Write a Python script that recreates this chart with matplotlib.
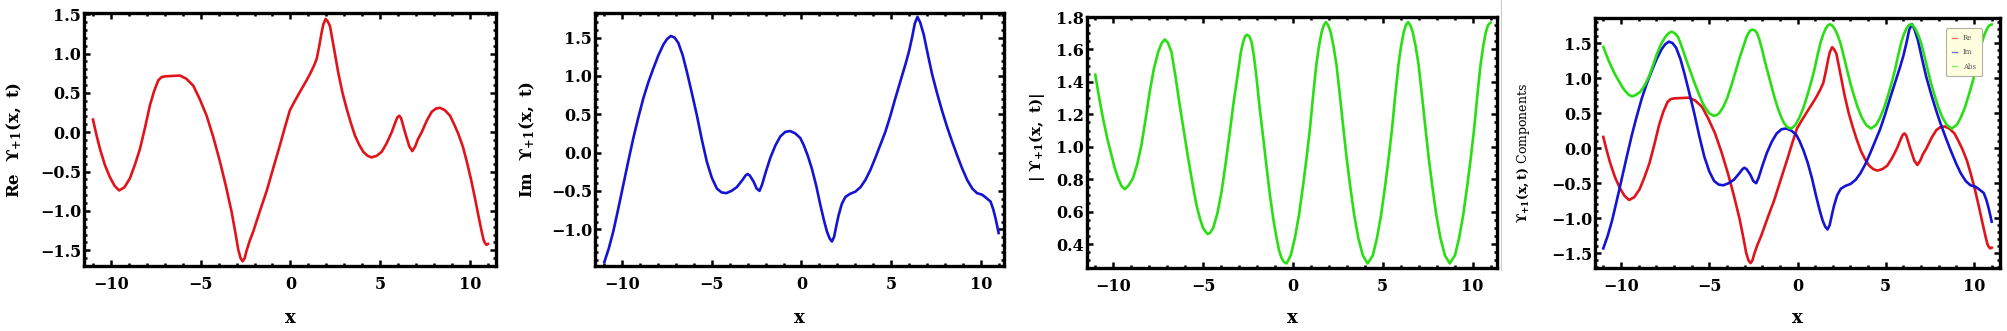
import matplotlib
matplotlib.use("Agg")
import matplotlib.pyplot as plt
from matplotlib.ticker import MultipleLocator
from matplotlib.lines import Line2D

# 図から読み取った値
re_x = [-11.0, -10.8, -10.6, -10.33, -10.06, -9.8, -9.54, -9.25, -8.94, -8.66, -8.38, -8.1,
        -7.83, -7.6, -7.36, -7.18, -6.99, -6.6, -6.16, -5.8, -5.41, -5.05, -4.67, -4.3, -3.93,
        -3.6, -3.28, -3.05, -2.91, -2.78, -2.66, -2.55, -2.45, -2.27, -2.07, -1.7, -1.33, -0.95,
        -0.58, -0.3, -0.03, 0.25, 0.62, 0.85, 1.09, 1.3, 1.46, 1.6, 1.74, 1.83, 1.96, 2.07, 2.2,
        2.43, 2.66, 2.9, 3.13, 3.36, 3.59, 3.83, 4.06, 4.3, 4.52, 4.8, 5.08, 5.36, 5.64, 5.85,
        5.96, 6.06, 6.16, 6.27, 6.38, 6.5, 6.62, 6.79, 6.95, 7.1, 7.31, 7.6, 7.87, 8.1, 8.33,
        8.6, 8.89, 9.12, 9.35, 9.6, 9.82, 10.05, 10.28, 10.47, 10.65, 10.76, 10.84, 10.92, 11.0]
re_y = [0.16, -0.04, -0.22, -0.42, -0.57, -0.68, -0.74, -0.70, -0.585, -0.41, -0.21, 0.06,
        0.34, 0.52, 0.66, 0.70, 0.71, 0.715, 0.72, 0.68, 0.59, 0.42, 0.21, -0.06, -0.37,
        -0.68, -1.01, -1.30, -1.49, -1.60, -1.64, -1.60, -1.51, -1.38, -1.26, -1.0, -0.75, -0.45,
        -0.16, 0.07, 0.28, 0.40, 0.55, 0.64, 0.74, 0.84, 0.93, 1.09, 1.27, 1.37, 1.44, 1.41, 1.35,
        1.06, 0.76, 0.50, 0.30, 0.12, -0.04, -0.16, -0.25, -0.30, -0.32, -0.30, -0.25, -0.14, 0.0, 0.13,
        0.19, 0.21, 0.18, 0.09, 0.0, -0.09, -0.18, -0.24, -0.18, -0.09, 0.0, 0.15, 0.26, 0.30, 0.31,
        0.28, 0.21, 0.10, -0.02, -0.18, -0.37, -0.59, -0.84, -1.06, -1.26, -1.37, -1.41, -1.43, -1.42]

im_x = [-11.0, -10.75, -10.5, -10.22, -9.94, -9.66, -9.38, -9.1, -8.82, -8.54, -8.26, -7.98,
        -7.70, -7.5, -7.29, -7.08, -6.87, -6.63, -6.40, -6.12, -5.84, -5.56, -5.28, -5.0, -4.72,
        -4.46, -4.20, -3.9, -3.60, -3.3, -3.12, -3.01, -2.88, -2.67, -2.5, -2.34, -2.2, -2.0,
        -1.74, -1.46, -1.18, -0.9, -0.63, -0.35, -0.07, 0.12, 0.35, 0.58, 0.82, 1.05, 1.25, 1.42,
        1.57, 1.70, 1.82, 1.95, 2.07, 2.25, 2.45, 2.7, 3.01, 3.3, 3.56, 3.84, 4.12, 4.4, 4.68,
        4.96, 5.24, 5.52, 5.80, 6.0, 6.17, 6.32, 6.47, 6.62, 6.82, 7.05, 7.29, 7.57, 7.85, 8.13,
        8.41, 8.69, 8.97, 9.25, 9.53, 9.8, 10.08, 10.3, 10.55, 10.7, 10.83, 10.93, 11.0]
im_y = [-1.43, -1.25, -1.03, -0.73, -0.42, -0.11, 0.19, 0.46, 0.71, 0.92, 1.10, 1.27,
        1.41, 1.48, 1.52, 1.50, 1.43, 1.27, 1.06, 0.78, 0.49, 0.17, -0.12, -0.33, -0.47,
        -0.52, -0.53, -0.50, -0.45, -0.36, -0.30, -0.28, -0.30, -0.38, -0.47, -0.50, -0.42, -0.26,
        -0.07, 0.09, 0.21, 0.27, 0.28, 0.25, 0.19, 0.10, -0.04, -0.21, -0.43, -0.68, -0.88, -1.03,
        -1.12, -1.16, -1.10, -0.95, -0.82, -0.67, -0.58, -0.54, -0.51, -0.45, -0.36, -0.23, -0.07, 0.10, 0.27,
        0.48, 0.71, 0.93, 1.15, 1.32, 1.50, 1.68, 1.77, 1.70, 1.54, 1.28, 1.02, 0.77, 0.54, 0.33,
        0.14, -0.04, -0.21, -0.36, -0.47, -0.53, -0.55, -0.59, -0.64, -0.74, -0.86, -0.97, -1.05]

abs_x = [-11.0, -10.78, -10.57, -10.33, -10.10, -9.92, -9.73, -9.55, -9.36, -9.15, -8.90, -8.67,
         -8.43, -8.20, -7.97, -7.74, -7.50, -7.30, -7.13, -6.95, -6.76, -6.53, -6.30, -6.06, -5.83,
         -5.60, -5.37, -5.18, -5.0, -4.75, -4.60, -4.44, -4.20, -3.97, -3.74, -3.51, -3.28, -3.05,
         -2.90, -2.77, -2.66, -2.55, -2.42, -2.30, -2.16, -2.02, -1.84, -1.65, -1.46, -1.28, -1.10,
         -0.91, -0.77, -0.63, -0.51, -0.35, -0.12, 0.11, 0.34, 0.57, 0.76, 0.95, 1.12, 1.30, 1.45,
         1.60, 1.72, 1.84, 1.96, 2.10, 2.26, 2.43, 2.62, 2.81, 2.99, 3.18, 3.41, 3.64, 3.89, 4.16,
         4.45, 4.68, 4.91, 5.14, 5.33, 5.52, 5.69, 5.87, 6.02, 6.17, 6.29, 6.41, 6.53, 6.67, 6.83,
         7.00, 7.19, 7.38, 7.56, 7.75, 7.98, 8.21, 8.46, 8.73, 9.02, 9.25, 9.48, 9.71, 9.90, 10.09,
         10.26, 10.44, 10.59, 10.74, 10.86, 11.0]
abs_y = [1.445, 1.30, 1.175, 1.05, 0.949, 0.87, 0.806, 0.76, 0.738, 0.76, 0.806, 0.89,
         1.01, 1.17, 1.338, 1.48, 1.584, 1.64, 1.662, 1.64, 1.584, 1.43, 1.256, 1.09, 0.929,
         0.78, 0.641, 0.56, 0.498, 0.461, 0.47, 0.498, 0.59, 0.723, 0.90, 1.092, 1.29, 1.461,
         1.58, 1.646, 1.68, 1.691, 1.68, 1.646, 1.55, 1.42, 1.23, 1.052, 0.87, 0.703, 0.56,
         0.437, 0.36, 0.314, 0.29, 0.28, 0.33, 0.437, 0.58, 0.764, 0.93, 1.113, 1.31, 1.502, 1.62,
         1.707, 1.75, 1.769, 1.75, 1.707, 1.62, 1.502, 1.31, 1.113, 0.93, 0.764, 0.58, 0.437, 0.33, 0.28,
         0.33, 0.437, 0.58, 0.764, 0.93, 1.113, 1.31, 1.502, 1.62, 1.707, 1.75, 1.769, 1.75, 1.707, 1.62,
         1.502, 1.31, 1.113, 0.93, 0.764, 0.58, 0.437, 0.33, 0.28, 0.33, 0.437, 0.58, 0.764, 0.93, 1.113,
         1.31, 1.502, 1.62, 1.707, 1.75, 1.765]

series_labels = ["Re", "Im", "Abs"]
RED = "#e0141a"
BLUE = "#1414d2"
GREEN = "#2ade14"

plt.rcParams["font.family"] = ["DejaVu Serif"]
plt.rcParams["font.weight"] = "bold"
plt.rcParams["mathtext.fontset"] = "dejavuserif"

W, H = 2007, 331
fig = plt.figure(figsize=(W / 100, H / 100), dpi=100)


def make_axes(left, right, top, bottom):
    return fig.add_axes([left / W, (H - bottom) / H, (right - left) / W, (bottom - top) / H])


def style_frame(ax, xlim, ylim, ymajor, yminor):
    ax.set_xlim(*xlim)
    ax.set_ylim(*ylim)
    ax.xaxis.set_major_locator(MultipleLocator(5))
    ax.xaxis.set_minor_locator(MultipleLocator(1))
    ax.yaxis.set_major_locator(MultipleLocator(ymajor))
    ax.yaxis.set_minor_locator(MultipleLocator(yminor))
    for sp in ax.spines.values():
        sp.set_linewidth(2.4)
    ax.tick_params(which="both", direction="in", top=True, right=True, width=1.8, labelsize=11.5)
    ax.tick_params(which="major", length=4)
    ax.tick_params(which="minor", length=2.2)
    ax.tick_params(axis="x", pad=7)
    ax.tick_params(axis="y", pad=2)


def add_xlabel(ax, y):
    ax.set_xlabel("x", fontsize=13, fontweight="bold")
    ax.xaxis.label.set_va("center")
    ax.xaxis.set_label_coords(0.5, y)


# 1: 実部
ax1 = make_axes(84, 496, 13, 266)
ax1.plot(re_x, re_y, color=RED, lw=1.9)
style_frame(ax1, (-11.5, 11.45), (-1.70, 1.515), 0.5, 0.1)
ax1.set_ylabel(r"$\mathbf{Re\ \ ϒ_{+1}(x,\ t)}$", fontsize=12)
ax1.yaxis.set_label_coords(-0.146, 0.5)
add_xlabel(ax1, -0.2055)

# 2: 虚部
ax2 = make_axes(595, 1004, 13, 266)
ax2.plot(im_x, im_y, color=BLUE, lw=1.9)
style_frame(ax2, (-11.52, 11.3), (-1.48, 1.82), 0.5, 0.1)
ax2.set_ylabel(r"$\mathbf{Im\ \ ϒ_{+1}(x,\ t)}$", fontsize=12)
ax2.yaxis.set_label_coords(-0.143, 0.5)
add_xlabel(ax2, -0.2055)

# 3: 絶対値
ax3 = make_axes(1087, 1497, 17, 268)
ax3.plot(abs_x, abs_y, color=GREEN, lw=1.9)
style_frame(ax3, (-11.46, 11.36), (0.252, 1.80), 0.2, 0.05)
ax3.set_ylabel(r"$\mathbf{|\ ϒ_{+1}(x,\ t)|}$", fontsize=11)
ax3.yaxis.set_label_coords(-0.098, 0.52)
add_xlabel(ax3, -0.199)

# 4: まとめ
ax4 = make_axes(1595, 2000, 18, 268)
ax4.plot(re_x, re_y, color=RED, lw=1.9)
ax4.plot(im_x, im_y, color=BLUE, lw=1.9)
ax4.plot(abs_x, abs_y, color=GREEN, lw=1.9)
style_frame(ax4, (-11.47, 11.47), (-1.71, 1.857), 0.5, 0.1)
ax4.set_ylabel(r"$\mathbf{ϒ_{+1}(x,t)}$ Components", fontsize=9)
ax4.yaxis.set_label_coords(-0.156, 0.46)
add_xlabel(ax4, -0.2)

handles = [Line2D([], [], color=c, lw=1.0, alpha=0.6) for c in (RED, BLUE, GREEN)]
leg = ax4.legend(handles, series_labels, loc="upper left", bbox_to_anchor=(0.859, 0.972),
                 fontsize=5, handlelength=0.8, handletextpad=0.8, borderpad=0.8,
                 labelspacing=0.9, frameon=True, fancybox=True)
leg.get_frame().set_facecolor("#ffffe0")
leg.get_frame().set_edgecolor("#b0b0a0")
leg.get_frame().set_linewidth(0.8)
leg.get_frame().set_alpha(1.0)
for t in leg.get_texts():
    t.set_color("#555555")
    t.set_fontweight("normal")

# パネル間の薄い区切り線
fig.add_artist(Line2D([1501 / W, 1501 / W], [(H - 270) / H, 1.0], color="#cccccc", lw=0.8))

fig.savefig("out.png", dpi=100)
